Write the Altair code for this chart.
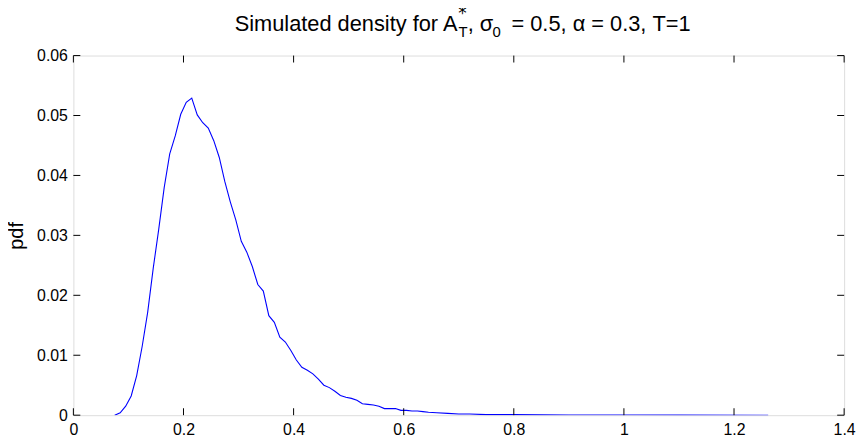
import altair as alt
import pandas as pd

# Simulated density curve
x_vals = [0.075, 0.085, 0.095, 0.105, 0.115, 0.125, 0.135, 0.145, 0.155, 0.165,
          0.175, 0.185, 0.195, 0.205, 0.215, 0.225, 0.235, 0.245, 0.255, 0.265,
          0.275, 0.285, 0.295, 0.305, 0.315, 0.325, 0.335, 0.345, 0.355, 0.365,
          0.375, 0.385, 0.395, 0.405, 0.415, 0.425, 0.435, 0.445, 0.455, 0.465,
          0.475, 0.485, 0.495, 0.505, 0.515, 0.525, 0.535, 0.545, 0.555, 0.565,
          0.575, 0.585, 0.595, 0.605, 0.615, 0.625, 0.635, 0.645, 0.660, 0.680,
          0.700, 0.720, 0.750, 0.800, 0.850, 0.900, 1.000, 1.100, 1.262]
pdf_vals = [0.0000, 0.0004, 0.0015, 0.0032, 0.0066, 0.0115, 0.0172, 0.0245, 0.0310, 0.0380,
            0.0436, 0.0466, 0.0502, 0.0522, 0.0529, 0.0501, 0.0488, 0.0479, 0.0458, 0.0430,
            0.0390, 0.0356, 0.0326, 0.0290, 0.0272, 0.0248, 0.0218, 0.0207, 0.0166, 0.0155,
            0.0130, 0.0122, 0.0108, 0.0092, 0.0080, 0.0075, 0.0069, 0.0060, 0.0050, 0.0046,
            0.0040, 0.0033, 0.0030, 0.0028, 0.0025, 0.0019, 0.0018, 0.0017, 0.0015, 0.0011,
            0.0011, 0.0011, 0.0008, 0.0008, 0.0007, 0.0007, 0.0006, 0.0005, 0.0004, 0.0003,
            0.0002, 0.0002, 0.0001, 0.0001, 0.00005, 0.00003, 0.00002, 0.00001, 0.0]

x_ticks = [0, 0.2, 0.4, 0.6, 0.8, 1.0, 1.2, 1.4]
y_ticks = [0, 0.01, 0.02, 0.03, 0.04, 0.05, 0.06]

FONT = "Liberation Sans"
W, H = 778, 363
TICK = 7

curve_df = pd.DataFrame({"x": x_vals, "pdf": pdf_vals})
xt_df = pd.DataFrame({"x": x_ticks})
yt_df = pd.DataFrame({"y": y_ticks})

xscale = alt.Scale(domain=[0, 1.4], nice=False, zero=False)
yscale = alt.Scale(domain=[0, 0.06], nice=False, zero=False)

xaxis = alt.Axis(values=x_ticks, format=".1~f", title=None, grid=False, domain=False,
                 ticks=False, labelFont=FONT, labelFontSize=16, labelColor="black",
                 labelPadding=7, labelFlush=False)
yaxis = alt.Axis(values=y_ticks, format=".2~f", title="pdf", grid=False, domain=False,
                 ticks=False, labelFont=FONT, labelFontSize=16, labelColor="black",
                 labelPadding=6, titleFont=FONT, titleFontSize=20, titleFontWeight="normal",
                 titleColor="black", titleX=-47, titleY=H / 2, titleAngle=270,
                 titleBaseline="bottom", titleAlign="center")

curve = alt.Chart(curve_df).mark_line(color="#0000ff", strokeWidth=1.1, clip=True).encode(
    x=alt.X("x:Q", scale=xscale, axis=xaxis),
    y=alt.Y("pdf:Q", scale=yscale, axis=yaxis),
)

xt_bottom = alt.Chart(xt_df).mark_rule(color="black", strokeWidth=1).encode(
    x=alt.X("x:Q", scale=xscale), y=alt.value(H), y2=alt.value(H - TICK))
xt_top = alt.Chart(xt_df).mark_rule(color="black", strokeWidth=1).encode(
    x=alt.X("x:Q", scale=xscale), y=alt.value(0), y2=alt.value(TICK))
yt_left = alt.Chart(yt_df).mark_rule(color="black", strokeWidth=1).encode(
    y=alt.Y("y:Q", scale=yscale), x=alt.value(0), x2=alt.value(TICK))
yt_right = alt.Chart(yt_df).mark_rule(color="black", strokeWidth=1).encode(
    y=alt.Y("y:Q", scale=yscale), x=alt.value(W), x2=alt.value(W - TICK))

def txt(s, x, y, size, align="left", font=FONT):
    return alt.Chart(pd.DataFrame({"t": [s]})).mark_text(
        font=font, fontSize=size, align=align, baseline="alphabetic", color="black"
    ).encode(text="t:N", x=alt.value(x), y=alt.value(y))

title_parts = [
    txt("Simulated density for A", 387.7, -24.7, 22, "right"),
    txt("*", 388.5, -37, 17, font="DejaVu Sans"),
    txt("T", 388.7, -18.5, 15),
    txt(", \u03c3", 398, -24.7, 22),
    txt("0", 423, -18.5, 15),
    txt("= 0.5, \u03b1 = 0.3, T=1", 623, -24.7, 22, "right"),
]

chart = alt.layer(curve, xt_bottom, xt_top, yt_left, yt_right, *title_parts).properties(
    width=W, height=H,
    autosize=alt.AutoSizeParams(type="none"),
    padding={"left": 66, "top": 46, "right": 14, "bottom": 19},
).configure_view(stroke="black", strokeWidth=1).configure(background="white")

chart.save("out.html", embed_options={"renderer": "svg", "actions": False})
